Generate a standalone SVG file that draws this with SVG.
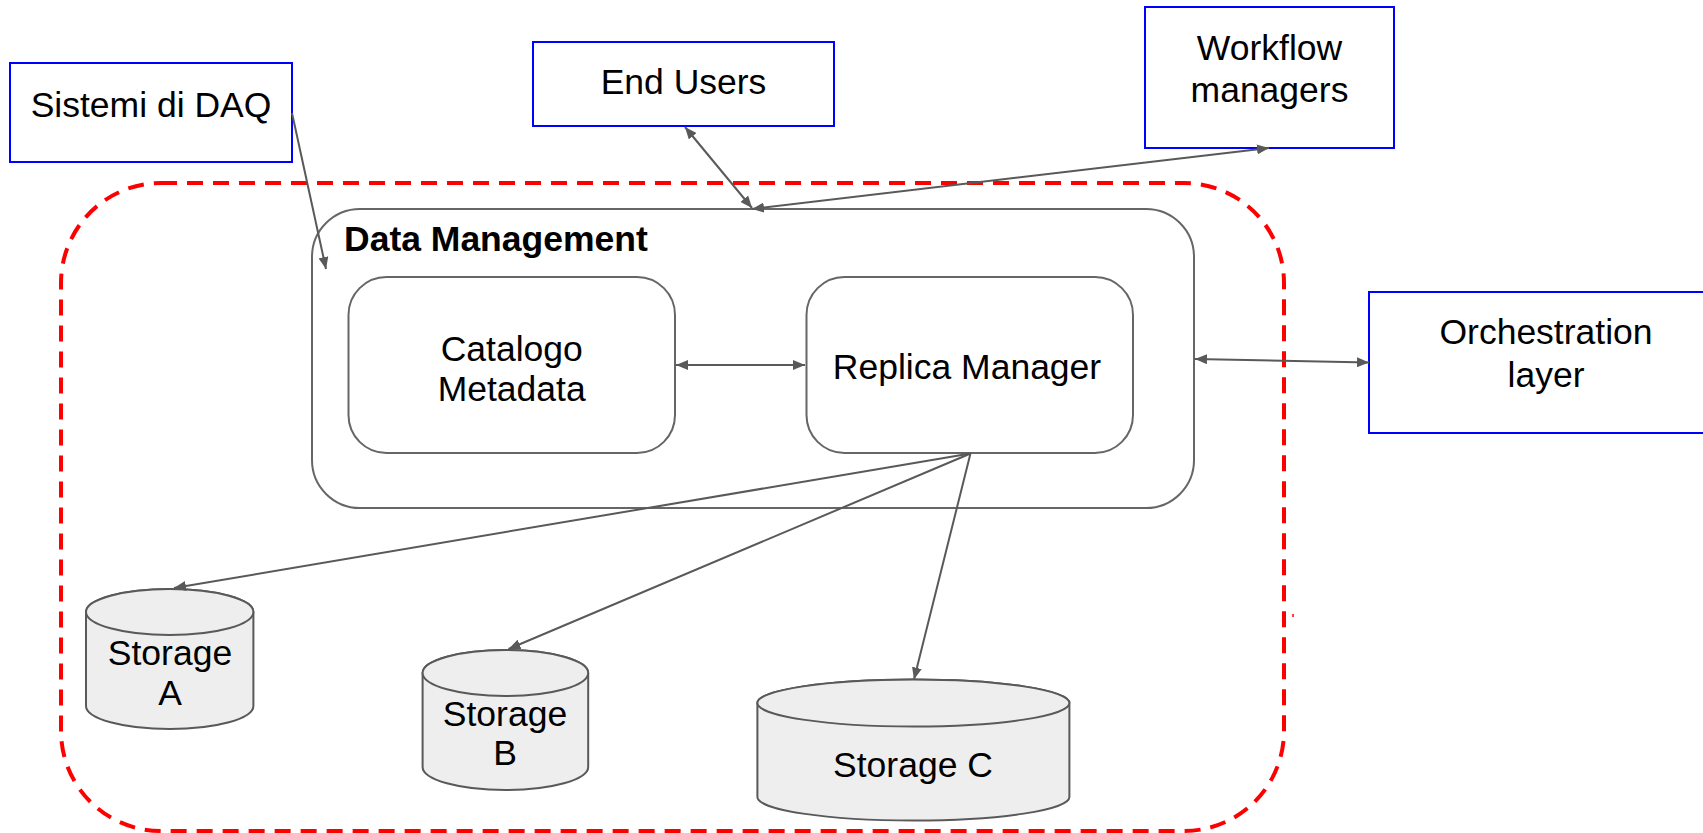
<svg xmlns="http://www.w3.org/2000/svg" width="1703" height="833" viewBox="0 0 1703 833">
<style>
.blue{fill:#fff;stroke:#0000ff;stroke-width:2}
.grey{fill:#fff;stroke:#666;stroke-width:2}
.cyl{fill:#eeeeee;stroke:#595959;stroke-width:2}
.t{font-family:"Liberation Sans",Arial,sans-serif;font-size:35.5px;fill:#000;text-anchor:middle}
.b{font-weight:bold;text-anchor:start}
.c{stroke:#595959;stroke-width:2;fill:none}
.red{fill:none;stroke:#ff0000;stroke-width:4;stroke-dasharray:16 10}
</style>
<defs>
<marker id="ah" viewBox="0 0 12 10" refX="12" refY="5" markerWidth="12" markerHeight="10" markerUnits="userSpaceOnUse" orient="auto-start-reverse">
<path d="M0,0 L12,5 L0,10 z" fill="#595959"/>
</marker>
</defs>
<rect width="1703" height="833" fill="#fff"/>
<g id="boundary">
<rect class="red" x="61" y="183" width="1223" height="648" rx="100" ry="100"/>
<line x1="1293" y1="614" x2="1293" y2="617" stroke="#ff0000" stroke-width="1.5"/>
</g>
<g id="daq">
<rect class="blue" x="10" y="63" width="282" height="99"/>
<text class="t" x="151" y="117">Sistemi di DAQ</text>
</g>
<g id="end-users">
<rect class="blue" x="533" y="42" width="301" height="84"/>
<text class="t" x="683.5" y="94">End Users</text>
</g>
<g id="workflow">
<rect class="blue" x="1145" y="7" width="249" height="141"/>
<text class="t" x="1269.5" y="60">Workflow</text>
<text class="t" x="1269.5" y="102">managers</text>
</g>
<g id="orchestration">
<rect class="blue" x="1369" y="292" width="354" height="141"/>
<text class="t" x="1546" y="344">Orchestration</text>
<text class="t" x="1546" y="387">layer</text>
</g>
<g id="data-management">
<rect class="grey" x="312" y="209" width="882" height="299" rx="48" ry="48"/>
<text class="t b" x="344" y="251">Data Management</text>
</g>
<g id="catalogo">
<rect class="grey" x="348.5" y="277" width="326.5" height="176" rx="38" ry="38"/>
<text class="t" x="511.7" y="361">Catalogo</text>
<text class="t" x="511.7" y="401">Metadata</text>
</g>
<g id="replica">
<rect class="grey" x="806.5" y="277" width="326.5" height="176" rx="38" ry="38"/>
<text class="t" x="967" y="379">Replica Manager</text>
</g>
<g id="storage-a">
<path class="cyl" d="M86,612 V706 A83.7,23 0 0 0 253.4,706 V612 A83.7,23 0 0 0 86,612 Z"/>
<ellipse class="cyl" cx="169.7" cy="612" rx="83.7" ry="23"/>
<text class="t" x="170" y="665">Storage</text>
<text class="t" x="170" y="705">A</text>
</g>
<g id="storage-b">
<path class="cyl" d="M422.6,673 V767 A82.8,23 0 0 0 588.2,767 V673 A82.8,23 0 0 0 422.6,673 Z"/>
<ellipse class="cyl" cx="505.4" cy="673" rx="82.8" ry="23"/>
<text class="t" x="505" y="726">Storage</text>
<text class="t" x="505" y="765">B</text>
</g>
<g id="storage-c">
<path class="cyl" d="M757.4,703 V797 A156,23.5 0 0 0 1069.4,797 V703 A156,23.5 0 0 0 757.4,703 Z"/>
<ellipse class="cyl" cx="913.4" cy="703" rx="156" ry="23.5"/>
<text class="t" x="913" y="777">Storage C</text>
</g>
<g id="connectors">
<path class="c" d="M292,113 L326,269" marker-end="url(#ah)"/>
<path class="c" d="M685,127 L752,208" marker-start="url(#ah)" marker-end="url(#ah)"/>
<path class="c" d="M752,209 L1269,148" marker-start="url(#ah)" marker-end="url(#ah)"/>
<path class="c" d="M1195,359 L1369,362.5" marker-start="url(#ah)" marker-end="url(#ah)"/>
<path class="c" d="M676,365 L805,365" marker-start="url(#ah)" marker-end="url(#ah)"/>
<path class="c" d="M970.5,453.5 L174,588" marker-end="url(#ah)"/>
<path class="c" d="M970.5,453.5 L508.5,649" marker-end="url(#ah)"/>
<path class="c" d="M970.5,453.5 L914,679.5" marker-end="url(#ah)"/>
</g>
</svg>
